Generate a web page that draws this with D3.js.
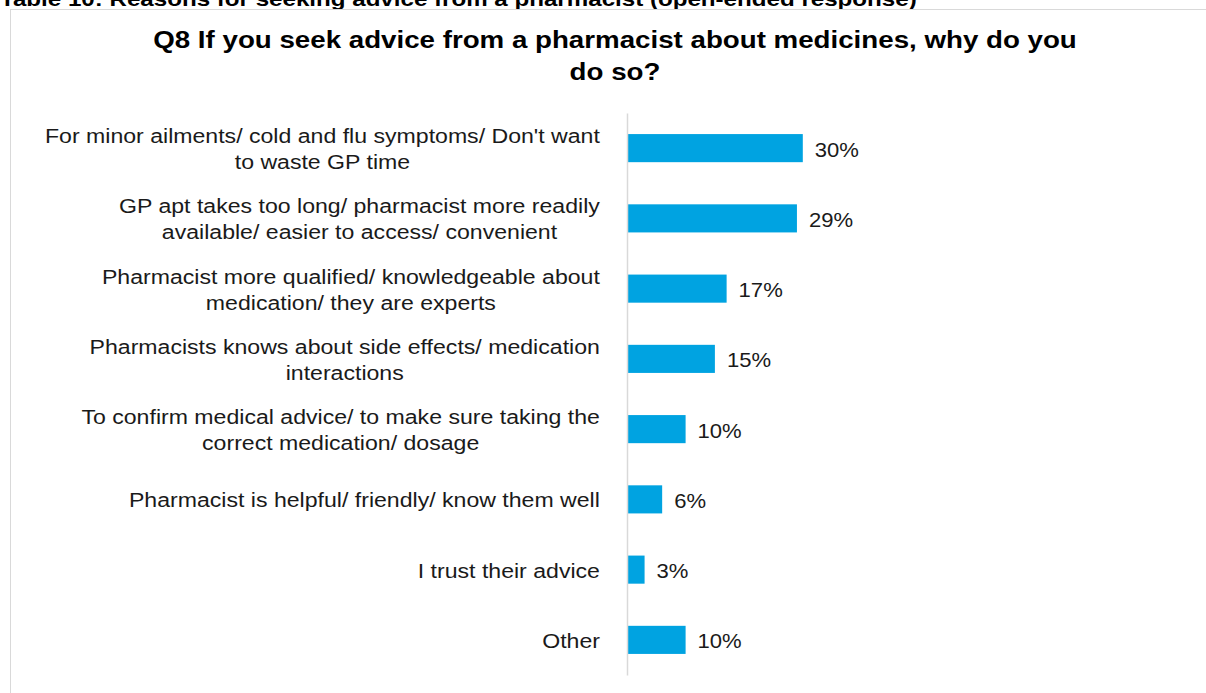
<!DOCTYPE html>
<html>
<head>
<meta charset="utf-8">
<script src="https://cdn.jsdelivr.net/npm/d3@7"></script>
<style>
  html, body { margin: 0; padding: 0; background: #ffffff; }
  svg { display: block; font-family: "Liberation Sans", Arial, sans-serif; }
</style>
</head>
<body>
<svg id="chart" width="1206" height="693"></svg>
<script>
// Survey responses (share of respondents, %)
const categories = [
  ["For minor ailments/ cold and flu symptoms/ Don't want", "to waste GP time"],
  ["GP apt takes too long/ pharmacist more readily", "available/ easier to access/ convenient"],
  ["Pharmacist more qualified/ knowledgeable about", "medication/ they are experts"],
  ["Pharmacists knows about side effects/ medication", "interactions"],
  ["To confirm medical advice/ to make sure taking the", "correct medication/ dosage"],
  ["Pharmacist is helpful/ friendly/ know them well"],
  ["I trust their advice"],
  ["Other"]
];
const values = [30, 29, 17, 15, 10, 6, 3, 10];
const valueLabels = ["30%", "29%", "17%", "15%", "10%", "6%", "3%", "10%"];

const captionText = "Table 10: Reasons for seeking advice from a pharmacist (open-ended response)";
const titleLines = [
  "Q8 If you seek advice from a pharmacist about medicines, why do you",
  "do so?"
];

const svg = d3.select("#chart");
const W = 1206, H = 693;

// horizontal stretch of the text glyphs
const titleStretch = 1.155;
const labelStretch = 1.1;
const valueStretch = 1.05;

svg.append("rect").attr("width", W).attr("height", H).attr("fill", "#ffffff");

// caption above the chart frame
svg.append("text")
  .attr("transform", "translate(0,5.5) scale(1.15,1)")
  .attr("font-size", 21).attr("font-weight", "bold").attr("fill", "#000")
  .text(captionText);

// chart frame
svg.append("rect")
  .attr("x", 10.5).attr("y", 9.5).attr("width", 1400).attr("height", 900)
  .attr("fill", "#ffffff").attr("stroke", "#d9d9d9").attr("stroke-width", 1);

// title
titleLines.forEach((t, i) => {
  svg.append("text")
    .attr("transform", `translate(615,${48 + i * 32}) scale(${titleStretch},1)`)
    .attr("text-anchor", "middle")
    .attr("font-size", 24).attr("font-weight", "bold").attr("fill", "#000")
    .text(t);
});

// scales
const x = d3.scaleLinear().domain([0, 35]).range([627, 832.1]);
const y = d3.scaleBand()
  .domain(d3.range(categories.length))
  .range([113, 675])
  .paddingInner(0.6)
  .paddingOuter(0.3);

// bars
svg.append("g").selectAll("rect")
  .data(values)
  .join("rect")
  .attr("x", x(0))
  .attr("y", (d, i) => y(i))
  .attr("width", d => x(d) - x(0))
  .attr("height", y.bandwidth())
  .attr("fill", "#00a3e1");

// category axis line
const axis = d3.axisLeft(y).tickSize(0).tickFormat("");
const axisG = svg.append("g").attr("transform", `translate(${x(0)},0)`).call(axis);
axisG.select(".domain").attr("stroke", "#d9d9d9").attr("stroke-width", 1.5);

// category labels: lines centred within a block right-aligned to the axis gap
const labelRight = 600;
const lineH = 26;
const labelG = svg.append("g");
categories.forEach((lines, i) => {
  const cy = y(i) + y.bandwidth() / 2;
  const g = labelG.append("g");
  const texts = lines.map((t, j) => {
    const by = cy + (j - (lines.length - 1) / 2) * lineH + 8;
    return g.append("text")
      .attr("font-size", 21).attr("fill", "#1a1a1a")
      .attr("text-anchor", "middle")
      .attr("data-y", by)
      .text(t);
  });
  const widths = texts.map(t => t.node().getComputedTextLength() * labelStretch);
  const blockW = d3.max(widths);
  const cx = labelRight - blockW / 2;
  texts.forEach(t => {
    t.attr("transform", `translate(${cx},${t.attr("data-y")}) scale(${labelStretch},1)`)
     .attr("data-y", null);
  });
});

// value labels
svg.append("g").selectAll("text")
  .data(values)
  .join("text")
  .attr("transform", (d, i) => `translate(${x(d) + 12},${y(i) + y.bandwidth() / 2 + 8.5}) scale(${valueStretch},1)`)
  .attr("font-size", 21).attr("fill", "#1a1a1a")
  .text((d, i) => valueLabels[i]);
</script>
</body>
</html>
